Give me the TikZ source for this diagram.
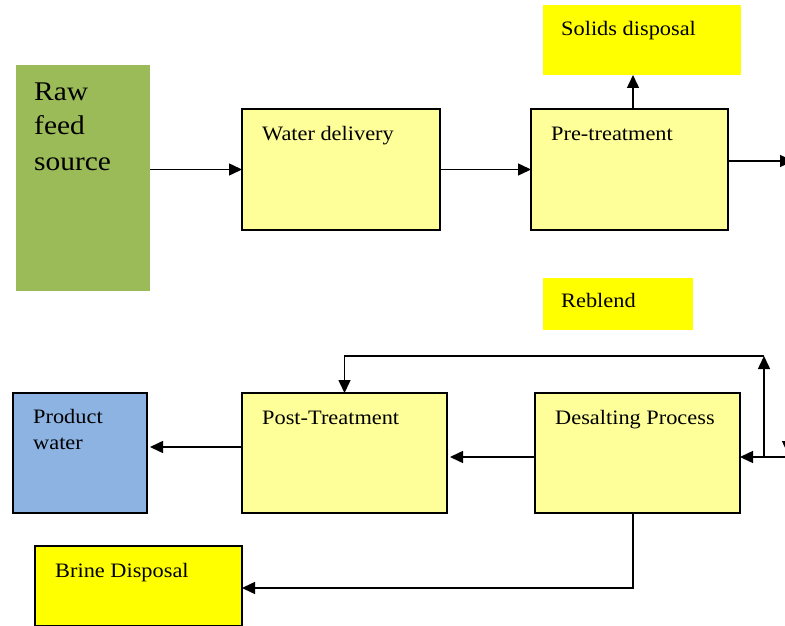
\documentclass[tikz,border=0pt]{standalone}
\usepackage{fontspec}
\setmainfont[FakeStretch=1.09]{Liberation Serif}
\usetikzlibrary{arrows.meta}
\definecolor{lightyel}{HTML}{FFFF99}
\definecolor{yel}{HTML}{FFFF00}
\definecolor{grn}{HTML}{9BBB59}
\definecolor{blu}{HTML}{8DB3E2}
\begin{document}
\begin{tikzpicture}[x=1pt,y=-1pt,
  box/.style={draw, line width=1.6pt, inner sep=0pt, outer sep=0pt, anchor=north west},
  flat/.style={inner sep=0pt, outer sep=0pt, anchor=north west},
  lbl/.style={inner sep=0pt, anchor=base west, font=\fontsize{20.5}{25}\selectfont},
  biglbl/.style={lbl, font=\fontsize{27}{35}\selectfont},
  flow/.style={line width=1.5pt, -{Triangle[length=13pt,width=12pt]}}]
\useasboundingbox (0,0) rectangle (785,626);
% boxes
\node[flat, fill=grn, minimum width=134pt, minimum height=226pt] (raw) at (16,65) {};
\node[box, fill=lightyel, minimum width=198pt, minimum height=121pt] (wd) at (242,109) {};
\node[box, fill=lightyel, minimum width=197pt, minimum height=121pt] (pre) at (531,109) {};
\node[flat, fill=yel, minimum width=198pt, minimum height=70pt] (sol) at (543,5) {};
\node[flat, fill=yel, minimum width=150pt, minimum height=52pt] (reb) at (543,278) {};
\node[box, fill=lightyel, minimum width=205pt, minimum height=120pt] (des) at (535,393) {};
\node[box, fill=lightyel, minimum width=205pt, minimum height=120pt] (post) at (242,393) {};
\node[box, fill=blu, minimum width=134pt, minimum height=120pt] (prod) at (13,393) {};
\node[box, fill=yel, minimum width=207pt, minimum height=80pt] (brine) at (35,546) {};
% labels
\node[biglbl] (rawT) at (34,100) {Raw};
\node[biglbl] (rawT2) at (34,135) {feed};
\node[biglbl] (rawT3) at (34,170) {source};
\node[lbl] (wdT) at (262,140) {Water delivery};
\node[lbl] (preT) at (551,140) {Pre-treatment};
\node[lbl] (solT) at (561,36) {Solids disposal};
\node[lbl] (rebT) at (561,307) {Reblend};
\node[lbl] (desT) at (555,424) {Desalting Process};
\node[lbl] (postT) at (262,424) {Post-Treatment};
\node[lbl] (prodT) at (33,423) {Product};
\node[lbl] (prodT2) at (33,449) {water};
\node[lbl] (brT) at (55,577) {Brine Disposal};
% helper coordinates
\coordinate (outR) at (793,161);
\coordinate (inR) at (792,457);
\coordinate (rb) at (764,457);
\coordinate (rt) at (764,356);
\coordinate (pp) at (0,447);
\coordinate (bt) at (633,588);
\coordinate (dnT) at (788,425);
\coordinate (dnH) at (788,454);
% connectors
\draw[flow] (raw.east |- wd.west) -- (wd.west);
\draw[flow] (wd.east) -- (pre.west |- wd.east);
\draw[flow] (pre.north -| bt) -- (sol.south -| bt);
\draw[flow] (pre.east |- outR) -- (outR);
\draw[flow] (inR) -- (des.east |- inR);
\draw[flow] (rb) -- (rt);
\draw[flow] (rt) -| (post.north);
\draw[flow] (des.west |- inR) -- ([xshift=3pt]post.east |- inR);
\draw[flow] (post.west |- pp) -- ([xshift=3pt]prod.east |- pp);
\draw[flow] (des.south -| bt) -- (bt) -- (brine.east |- bt);
\draw[flow] (dnT) -- (dnH);
\end{tikzpicture}
\end{document}
